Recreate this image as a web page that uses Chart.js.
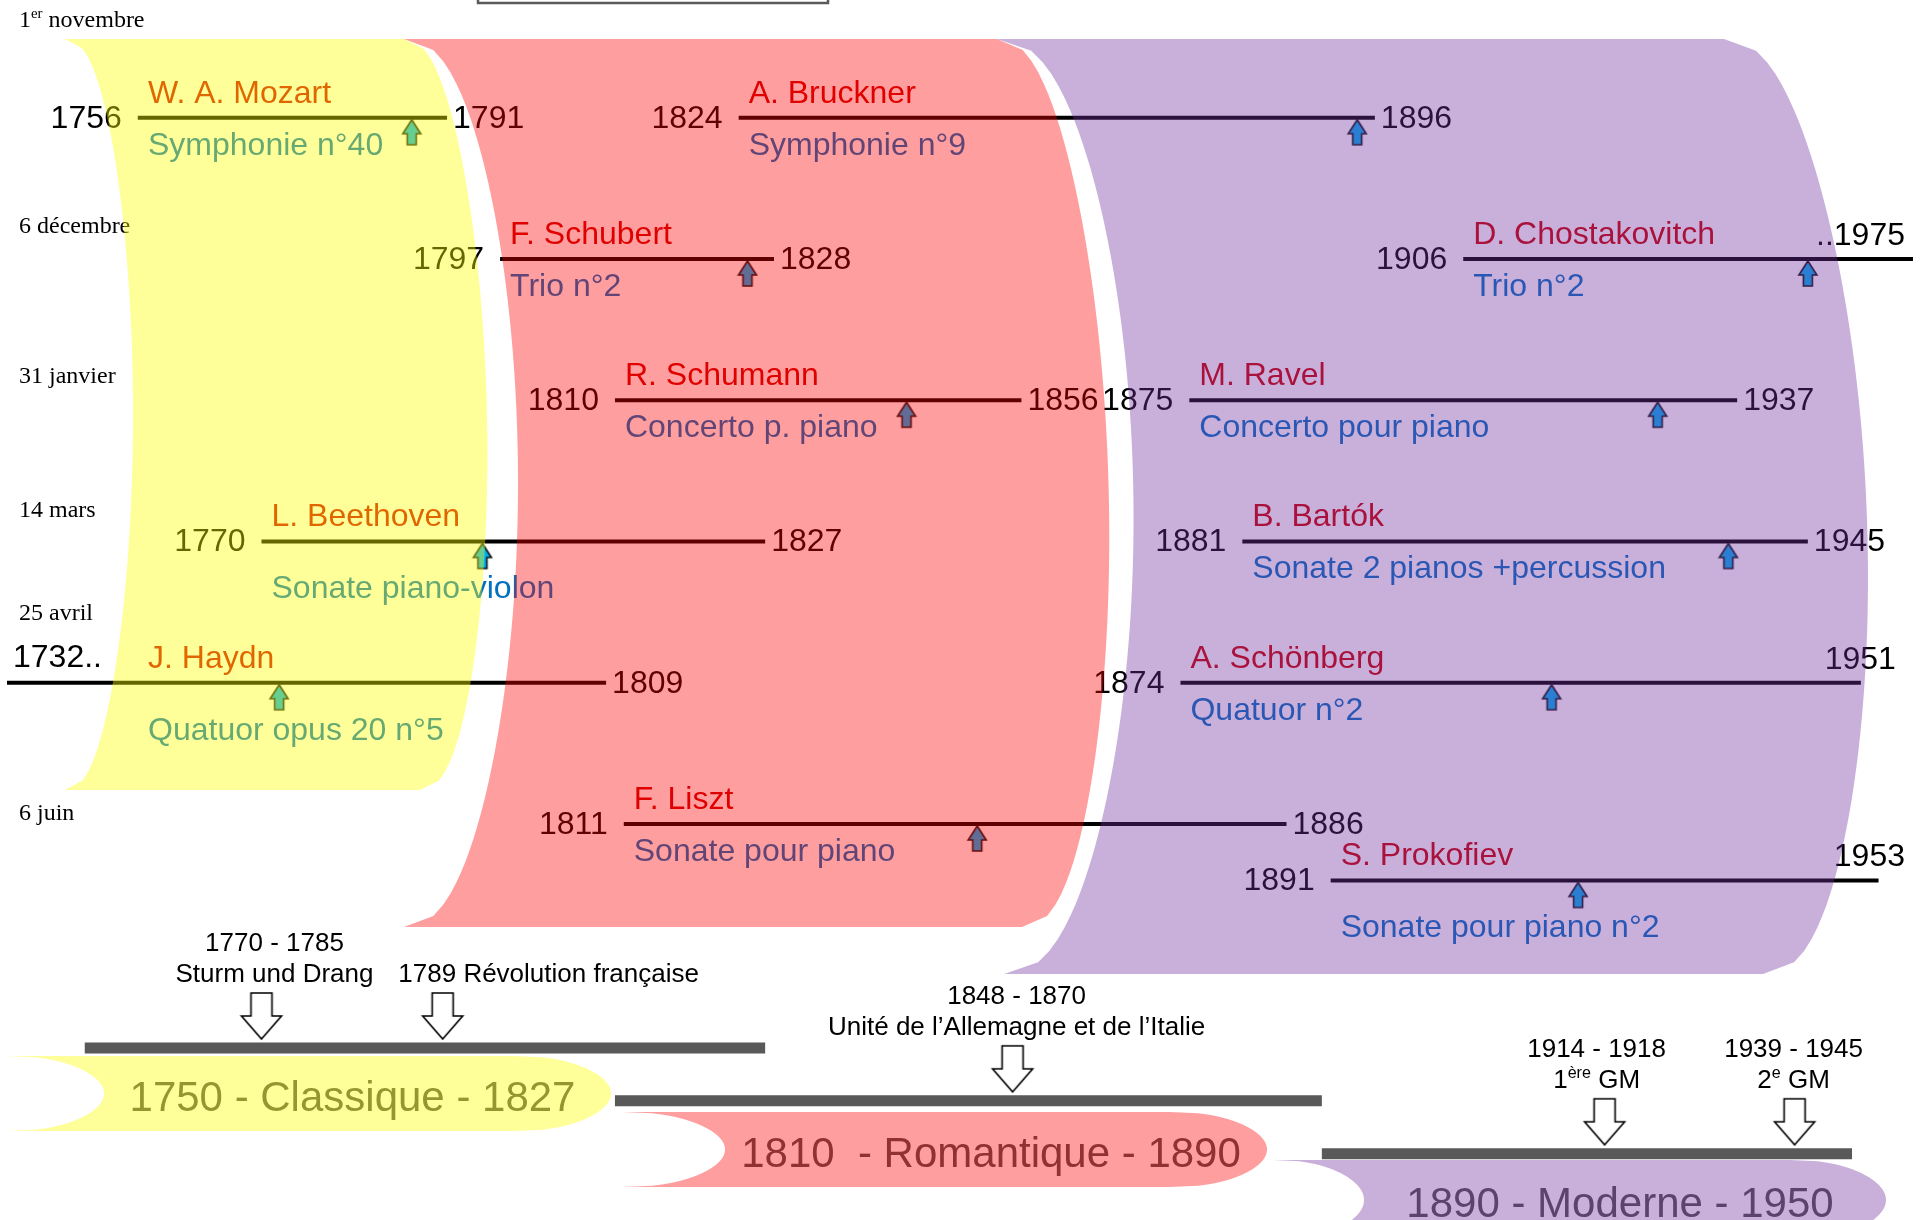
<!DOCTYPE html>
<html lang="fr">
<head>
<meta charset="utf-8">
<title>Compositeurs – Classique, Romantique, Moderne</title>
<script src="https://cdn.jsdelivr.net/npm/chart.js@4.4.1/dist/chart.umd.min.js"></script>
<style>
  html, body { margin: 0; padding: 0; background: #fff; }
  #wrap { width: 1920px; height: 1220px; }
</style>
</head>
<body>
<div id="wrap"><canvas id="timeline" width="1920" height="1220"></canvas></div>
<script>
// Composers (one lifeline each)
const composers = ['W. A. Mozart', 'A. Bruckner', 'F. Schubert', 'D. Chostakovitch', 'R. Schumann', 'M. Ravel',
                   'L. Beethoven', 'B. Bartók', 'J. Haydn', 'A. Schönberg', 'F. Liszt', 'S. Prokofiev'];
const works = ['Symphonie n°40', 'Symphonie n°9', 'Trio n°2', 'Trio n°2', 'Concerto p. piano', 'Concerto pour piano',
               'Sonate piano-violon', 'Sonate 2 pianos +percussion', 'Quatuor opus 20 n°5', 'Quatuor n°2',
               'Sonate pour piano', 'Sonate pour piano n°2'];
const born = [1756, 1824, 1797, 1906, 1810, 1875, 1770, 1881, 1732, 1874, 1811, 1891];
const died = [1791, 1896, 1828, 1975, 1856, 1937, 1827, 1945, 1809, 1951, 1886, 1953];
const workYear = [1787, 1894, 1825, 1945, 1843, 1928, 1795, 1936, 1772, 1916, 1851, 1919];
const row = [0, 0, 1, 1, 2, 2, 3, 3, 4, 4, 5, 5.4];

// Concert dates, one per row ('^' = superscript)
const concertDates = [['1', '^er', ' novembre'], ['6 décembre'], ['31 janvier'], ['14 mars'], ['25 avril'], ['6 juin']];

// Periods along the bottom
const periods = ['Classique', 'Romantique', 'Moderne'];
const periodStart = [1750, 1810, 1890];
const periodEnd = [1827, 1890, 1950];
const periodLabel = ['1750 - Classique - 1827', '1810  - Romantique - 1890', '1890 - Moderne - 1950'];

// Historical events
const eventYear = [1770, 1790.5, 1855, 1922, 1943.5];
const eventPeriod = [0, 0, 1, 2, 2];
const eventTitle = [['1770 - 1785'], ['1789 Révolution française'], ['1848 - 1870'], ['1914 - 1918'], ['1939 - 1945']];
const eventSub = [['Sturm und Drang'], null, ['Unité de l’Allemagne et de l’Italie'], ['1', '^ère', ' GM'], ['2', '^e', ' GM']];

// Axis ranges
const yearMin = 1741.2, yearMax = 1956.9;
const rowMin = -0.784, rowMax = 7.754;
const periodRowMin = -19.68, periodRowMax = 3.12;

const SANS = '"Liberation Sans", Arial, sans-serif';
const SERIF = '"Liberation Serif", "Times New Roman", serif';
const NAME_COLOR = '#cc0000';
const WORK_COLOR = '#0070c0';
const YELLOW = 'rgba(255, 255, 0, 0.4)';
const RED = 'rgba(255, 0, 0, 0.38)';
const PURPLE = 'rgba(112, 48, 160, 0.38)';

// Era backgrounds (drawn over lines and text, semi transparent)
const ERA_BANDS = [
  { top: 39, bottom: 790, l0: 65, l1: 65, lb: 68, r0: 404, r1: 420, rb: 75, color: YELLOW },
  { top: 39, bottom: 927, l0: 404, l1: 404, lb: 114, r0: 997, r1: 1022, rb: 99, color: RED },
  { top: 39, bottom: 974, l0: 997, l1: 1004, lb: 133, r0: 1724, r1: 1763, rb: 123, color: PURPLE }
];
const ERA_TAGS = [
  { top: 1056, bottom: 1131, left: 7, inner: 104, flatEnd: 514, right: 611, color: YELLOW },
  { top: 1112, bottom: 1187, left: 622, inner: 725, flatEnd: 1170, right: 1267, color: RED },
  { top: 1160, bottom: 1240, left: 1273, inner: 1364, flatEnd: 1790, right: 1886, color: PURPLE }
];
const DATE_BASELINE = [27, 233, 383, 517, 620, 820];
const EVENT_DX = [13, 106, 4, -8, -1];

function bump(t) {
  return Math.pow(Math.max(0, Math.sin(Math.PI * t)), 0.42);
}

function makeUpArrow() {
  const c = document.createElement('canvas');
  c.width = 22; c.height = 60;
  const g = c.getContext('2d');
  const cx = 11, tip = 32;
  g.beginPath();
  g.moveTo(cx, tip);
  g.lineTo(cx + 9, tip + 14);
  g.lineTo(cx + 4.5, tip + 14);
  g.lineTo(cx + 4.5, tip + 25);
  g.lineTo(cx - 4.5, tip + 25);
  g.lineTo(cx - 4.5, tip + 14);
  g.lineTo(cx - 9, tip + 14);
  g.closePath();
  g.fillStyle = '#00b0f0';
  g.fill();
  g.lineWidth = 1.6;
  g.strokeStyle = '#111';
  g.stroke();
  return c;
}

function makeDownArrow() {
  const c = document.createElement('canvas');
  c.width = 46; c.height = 114;
  const g = c.getContext('2d');
  const cx = 23, tip = 48;
  g.beginPath();
  g.moveTo(cx, tip);
  g.lineTo(cx + 20, tip - 23);
  g.lineTo(cx + 10.5, tip - 23);
  g.lineTo(cx + 10.5, tip - 46);
  g.lineTo(cx - 10.5, tip - 46);
  g.lineTo(cx - 10.5, tip - 23);
  g.lineTo(cx - 20, tip - 23);
  g.closePath();
  g.fillStyle = '#fff';
  g.fill();
  g.lineWidth = 1.6;
  g.strokeStyle = '#000';
  g.stroke();
  return c;
}

function drawRich(ctx, parts, x, y, size, family, align) {
  const segs = parts.map(p => p.startsWith('^') ? { t: p.slice(1), sup: true } : { t: p, sup: false });
  let total = 0;
  segs.forEach(s => {
    ctx.font = (s.sup ? size * 0.62 : size) + 'px ' + family;
    s.w = ctx.measureText(s.t).width;
    total += s.w;
  });
  let cx = align === 'center' ? x - total / 2 : x;
  ctx.textAlign = 'left';
  segs.forEach(s => {
    ctx.font = (s.sup ? size * 0.62 : size) + 'px ' + family;
    ctx.fillText(s.t, cx, s.sup ? y - size * 0.36 : y);
    cx += s.w;
  });
}

const overlayPlugin = {
  id: 'timelineLabels',
  afterDatasetsDraw(chart) {
    const ctx = chart.ctx;
    const xs = chart.scales.x, ys = chart.scales.y, yp = chart.scales.yp;
    const area = chart.chartArea;
    ctx.save();
    ctx.textBaseline = 'alphabetic';

    // box at the top edge
    ctx.lineWidth = 2.5;
    ctx.strokeStyle = '#5a5a5a';
    ctx.strokeRect(478, -20, 350, 23);

    // concert dates
    ctx.fillStyle = '#000';
    concertDates.forEach((d, i) => drawRich(ctx, d, area.left + 12, DATE_BASELINE[i], 24, SERIF, 'left'));

    // composer labels
    composers.forEach((name, i) => {
      const ly = ys.getPixelForValue(row[i]);
      const bx = xs.getPixelForValue(born[i]);
      const dx = xs.getPixelForValue(died[i]);
      const wx = xs.getPixelForValue(workYear[i]);
      const textX = Math.max(bx, area.left + 131) + 10;

      ctx.font = '32px ' + SANS;
      ctx.textAlign = 'left';
      ctx.fillStyle = NAME_COLOR;
      ctx.fillText(name, textX, ly - 15);

      const ww = ctx.measureText(works[i]).width;
      const lowered = wx > textX - 12 && wx < textX + ww + 12;
      ctx.fillStyle = WORK_COLOR;
      ctx.fillText(works[i], textX, ly + (lowered ? 57 : 37));

      ctx.fillStyle = '#000';
      if (born[i] < xs.min) {
        ctx.textAlign = 'left';
        ctx.fillText(born[i] + '..', area.left + 6, ly - 16);
      } else {
        ctx.textAlign = 'right';
        ctx.fillText(String(born[i]), bx - 16, ly + 10);
      }
      const dl = died[i] > xs.max ? '..' + died[i] : String(died[i]);
      const dw = ctx.measureText(dl).width;
      if (died[i] > xs.max || dx + 6 + dw > area.right - 4) {
        ctx.textAlign = 'right';
        ctx.fillText(dl, Math.min(dx + 35, area.right - 8), ly - 14);
      } else {
        ctx.textAlign = 'left';
        ctx.fillText(dl, dx + 6, ly + 10);
      }
    });

    // event labels
    ctx.fillStyle = '#000';
    eventYear.forEach((yr, i) => {
      const ax = xs.getPixelForValue(yr) + EVENT_DX[i];
      const stemTop = yp.getPixelForValue(eventPeriod[i]) - 56;
      if (eventSub[i]) {
        drawRich(ctx, eventTitle[i], ax, stemTop - 41, 26, SANS, 'center');
        drawRich(ctx, eventSub[i], ax, stemTop - 10, 26, SANS, 'center');
      } else {
        drawRich(ctx, eventTitle[i], ax, stemTop - 10, 26, SANS, 'center');
      }
    });

    // period labels
    ctx.fillStyle = '#505050';
    ctx.font = '42px ' + SANS;
    ctx.textAlign = 'center';
    ERA_TAGS.forEach((t, i) => {
      ctx.fillText(periodLabel[i], (t.inner + t.right) / 2 - 5, (t.top + t.bottom) / 2 + 17);
    });

    // era bands (over everything drawn so far)
    ERA_BANDS.forEach(b => {
      const n = 80, h = b.bottom - b.top;
      ctx.beginPath();
      for (let k = 0; k <= n; k++) {
        const t = k / n;
        const x = b.l0 + (b.l1 - b.l0) * t + b.lb * bump(t);
        if (k === 0) ctx.moveTo(x, b.top); else ctx.lineTo(x, b.top + h * t);
      }
      for (let k = n; k >= 0; k--) {
        const t = k / n;
        ctx.lineTo(b.r0 + (b.r1 - b.r0) * t + b.rb * bump(t), b.top + h * t);
      }
      ctx.closePath();
      ctx.fillStyle = b.color;
      ctx.fill();
    });

    ERA_TAGS.forEach(e => {
      const n = 60, h = e.bottom - e.top;
      ctx.beginPath();
      for (let k = 0; k <= n; k++) {
        const t = k / n;
        const x = e.left + (e.inner - e.left) * bump(t);
        if (k === 0) ctx.moveTo(x, e.top); else ctx.lineTo(x, e.top + h * t);
      }
      for (let k = n; k >= 0; k--) {
        const t = k / n;
        ctx.lineTo(e.flatEnd + (e.right - e.flatEnd) * bump(t), e.top + h * t);
      }
      ctx.closePath();
      ctx.fillStyle = e.color;
      ctx.fill();
    });

    ctx.restore();
  }
};

const upArrow = makeUpArrow();
const downArrow = makeDownArrow();

const lifeSets = composers.map((name, i) => ({
  label: name,
  data: [{ x: born[i], y: row[i] }, { x: died[i], y: row[i] }],
  borderColor: '#000',
  borderWidth: 4,
  pointRadius: 0,
  yAxisID: 'y',
  order: 2
}));

const workSet = {
  type: 'scatter',
  label: 'Œuvre',
  data: workYear.map((x, i) => ({ x: x, y: row[i] })),
  pointStyle: upArrow,
  pointRadius: 6,
  yAxisID: 'y',
  order: 0
};

const periodSets = periods.map((p, i) => ({
  label: p,
  data: [{ x: periodStart[i], y: i }, { x: periodEnd[i], y: i }],
  borderColor: '#595959',
  borderWidth: 11,
  pointRadius: 0,
  yAxisID: 'yp',
  order: 3
}));

const eventSet = {
  type: 'scatter',
  label: 'Événements',
  data: eventYear.map((x, i) => ({ x: x, y: eventPeriod[i] })),
  pointStyle: downArrow,
  pointRadius: 6,
  yAxisID: 'yp',
  order: 1
};

new Chart(document.getElementById('timeline'), {
  type: 'line',
  data: { datasets: [...periodSets, ...lifeSets, eventSet, workSet] },
  options: {
    responsive: false,
    devicePixelRatio: 1,
    animation: false,
    events: [],
    layout: { padding: 0 },
    plugins: { legend: { display: false }, tooltip: { enabled: false }, title: { display: false } },
    scales: {
      x: { type: 'linear', min: yearMin, max: yearMax, display: false },
      y: { type: 'linear', min: rowMin, max: rowMax, reverse: true, display: false },
      yp: { type: 'linear', min: periodRowMin, max: periodRowMax, reverse: true, display: false }
    }
  },
  plugins: [overlayPlugin]
});
</script>
</body>
</html>
